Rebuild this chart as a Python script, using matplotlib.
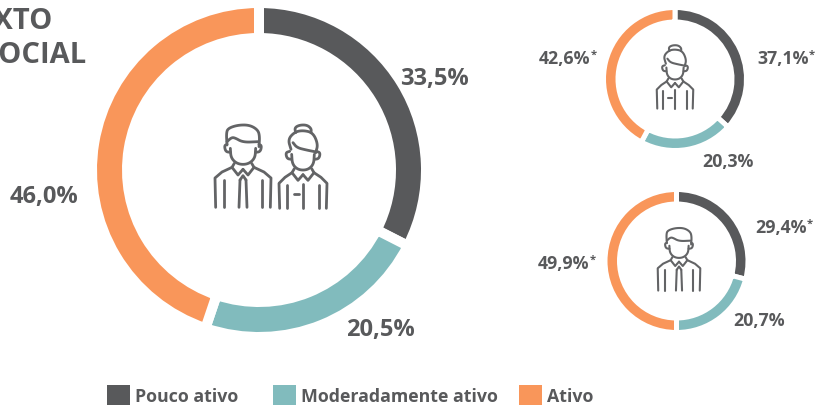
import matplotlib
matplotlib.use("Agg")
import matplotlib.pyplot as plt
import numpy as np

W, H = 816, 405
DARK = "#58595b"
TEAL = "#81bbbd"
ORANGE = "#f9965a"
ICON = "#636466"
colors = [DARK, TEAL, ORANGE]

categories = ["Pouco ativo", "Moderadamente ativo", "Ativo"]
# arc shares as drawn in the picture, they differ a bit from the printed labels
total_arcs = [32.5, 22.7, 44.8]
female_arcs = [36.7, 21.1, 42.2]
male_arcs = [29.1, 20.9, 50.0]
total_labels = ["33,5%", "20,5%", "46,0%"]
female_labels = ["37,1%", "20,3%", "42,6%"]
male_labels = ["29,4%", "20,7%", "49,9%"]

plt.rcParams["font.family"] = ["Open Sans", "DejaVu Sans"]
fig = plt.figure(figsize=(W / 100, H / 100), dpi=100)


def donut(values, cx, cy, r, ring, gap):
    # the white edge eats gap/2 px on each side of the ring
    R = r + gap / 2
    ax = fig.add_axes([(cx - R) / W, 1 - (cy + R) / H, 2 * R / W, 2 * R / H])
    ax.pie(values, colors=colors, startangle=90, counterclock=False, radius=1,
           wedgeprops=dict(width=(ring + gap) / R, edgecolor="white", linewidth=gap * 0.72))
    ax.set_xlim(-1, 1)
    ax.set_ylim(-1, 1)
    ax.axis("off")


donut(total_arcs, 259, 170, 162, 25, 10)
donut(female_arcs, 675, 79, 69, 9.5, 5)
donut(male_arcs, 676.5, 261, 69, 9.5, 5)

# overlay in pixel coords for icons and text
ov = fig.add_axes([0, 0, 1, 1], zorder=5)
ov.set_xlim(0, W)
ov.set_ylim(H, 0)
ov.axis("off")


def smooth(pts, n=3):
    p = np.array(pts, float)
    for _ in range(n):
        q = [p[0]]
        for a, b in zip(p[:-1], p[1:]):
            q += [0.75 * a + 0.25 * b, 0.25 * a + 0.75 * b]
        q.append(p[-1])
        p = np.array(q)
    return p


def stroke(pts, x0, y0, s, lw, curved=True, mirror=False):
    p = smooth(pts) if curved else np.array(pts, float)
    sign = -1 if mirror else 1
    ov.plot(x0 + sign * p[:, 0] * s / 3, y0 + p[:, 1] * s / 3, color=ICON, lw=lw,
            solid_capstyle="round", solid_joinstyle="round")


# icon shapes in units of the 3x zoom, x from the centre line, y from the icon top
def body(x0, y0, s, lw, dy, half):
    for m in (False, True):
        stroke([(0, dy + 48), (-15, dy + 65), (-33, dy + 42), (-26, dy + 30)], x0, y0, s, lw, False, m)
        stroke([(-33, dy + 42), (-half * 0.75, dy + 56), (-half, dy + 74), (-half + 2, 247)], x0, y0, s, lw, False, m)
        stroke([(-half * 0.68, dy + 80), (-half * 0.68, 247)], x0, y0, s, lw, False, m)


def male(x0, y0, s, lw):
    stroke([(-48, 60), (-50, 25), (-45, 10), (-15, 0), (20, 0), (45, 15), (50, 35), (48, 65)], x0, y0, s, lw)
    stroke([(-48, 50), (-35, 38), (-25, 38), (0, 52), (45, 50)], x0, y0, s, lw)
    stroke([(-48, 58), (-56, 62), (-52, 80), (-38, 82)], x0, y0, s, lw)
    stroke([(48, 58), (56, 62), (52, 80), (38, 82)], x0, y0, s, lw)
    stroke([(-38, 70), (-36, 100), (-15, 118), (15, 118), (36, 100), (38, 70)], x0, y0, s, lw)
    body(x0, y0, s, lw, 85, 84)
    stroke([(-9, 165), (-12, 247)], x0, y0, s, lw, False)
    stroke([(9, 165), (12, 247)], x0, y0, s, lw, False)
    stroke([(-9, 165), (0, 152), (9, 165)], x0, y0, s, lw, False)


def female(x0, y0, s, lw):
    stroke([(-22, 20), (-25, 5), (-10, -3), (12, -3), (25, 8), (24, 20)], x0, y0, s, lw)
    stroke([(-36, 70), (-45, 40), (-25, 18), (0, 13), (30, 20), (45, 55), (38, 80)], x0, y0, s, lw)
    stroke([(-30, 50), (-18, 65), (10, 72), (40, 78)], x0, y0, s, lw)
    stroke([(-40, 76), (-52, 80), (-48, 98), (-34, 100)], x0, y0, s, lw)
    stroke([(40, 76), (52, 80), (48, 98), (34, 100)], x0, y0, s, lw)
    stroke([(-34, 85), (-32, 115), (-14, 132), (14, 132), (32, 115), (34, 85)], x0, y0, s, lw)
    body(x0, y0, s, lw, 98, 72)
    stroke([(0, 175), (0, 247)], x0, y0, s, lw, False)
    stroke([(-28, 205), (-12, 205)], x0, y0, s, lw, False)


male(243, 125, 1, 2.0)
female(303, 126, 1, 2.0)
female(675, 46, 0.76, 1.5)
male(679, 228, 0.76, 1.5)

BIG = dict(color=DARK, fontsize=17, fontweight="bold", va="center")
SMALL = dict(color=DARK, fontsize=12.8, fontweight="bold", va="center")

ov.text(434, 79, total_labels[0], ha="center", **BIG)
ov.text(380, 330, total_labels[1], ha="center", **BIG)
ov.text(44, 197, total_labels[2], ha="center", **BIG)


def star_label(x, y, txt):
    t = ov.text(x, y, txt, ha="left", **SMALL)
    bb = t.get_window_extent(fig.canvas.get_renderer())
    ov.text(x + bb.width, y - 4, "*", ha="left", color=DARK, fontsize=8, fontweight="bold", va="center")


star_label(757, 59, female_labels[0])
ov.text(728, 162, female_labels[1], ha="center", **SMALL)
star_label(539, 59, female_labels[2])
star_label(755, 228, male_labels[0])
ov.text(759, 321, male_labels[1], ha="center", **SMALL)
star_label(538, 264, male_labels[2])

TITLE = dict(color=DARK, fontsize=21, fontweight="bold", ha="right", va="baseline")
ov.text(53, 29, "CONTEXTO", **TITLE)
ov.text(87, 63, "SOCIAL", **TITLE)

# legend
for c, name, sx in zip(colors, categories, [107, 273, 519]):
    ov.add_patch(plt.Rectangle((sx, 384.5), 23, 20.5, facecolor=c, edgecolor="none", clip_on=False))
    ov.text(sx + 28, 397.5, name, color=DARK, fontsize=12.8, fontweight="bold", va="center", ha="left")

fig.savefig("out.png", dpi=100)
